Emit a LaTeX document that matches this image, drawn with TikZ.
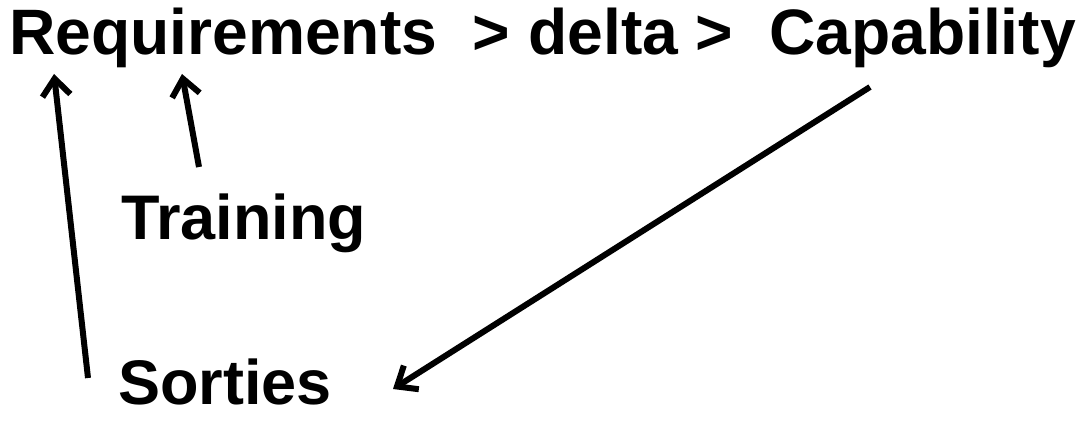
\documentclass[tikz,border=0pt]{standalone}
\usepackage{fontspec}
\setmainfont{Liberation Sans}
\usetikzlibrary{arrows.meta}
\begin{document}
\begin{tikzpicture}[x=1pt,y=-1pt,
  lbl/.style={inner sep=0pt,anchor=base west},
  arr/.style={line width=6pt,-{Straight Barb[length=17pt,width=28pt,line width=6pt]}}]
\useasboundingbox (0,0) rectangle (1082,430);
\node[lbl,font=\fontsize{64.2}{70}\selectfont\bfseries] (title) at (9,55) {Requirements\ \ > delta >\ \ Capability};
\node[lbl,font=\fontsize{63}{70}\selectfont\bfseries] (training) at (121,240) {Training};
\node[lbl,font=\fontsize{63}{70}\selectfont\bfseries] (sorties) at (118,404) {Sorties};
\coordinate (sortiesTail) at (88,378);
\coordinate (reqTip) at (54,74);
\coordinate (trainTail) at (199,167);
\coordinate (uTip) at (182,74);
\coordinate (capTail) at (870,87);
\coordinate (sortTip) at (393,389);
\draw[arr] (sortiesTail) -- (reqTip);
\draw[arr] (trainTail) -- (uTip);
\draw[arr] (capTail) -- (sortTip);
\end{tikzpicture}
\end{document}
